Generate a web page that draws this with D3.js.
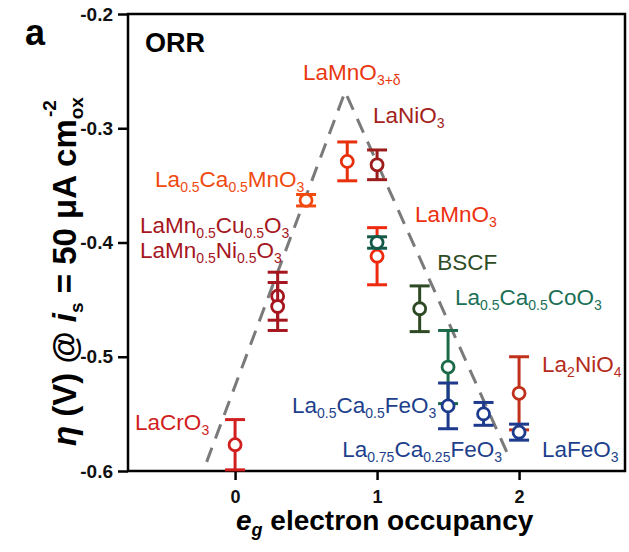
<!DOCTYPE html>
<html>
<head>
<meta charset="utf-8">
<script src="https://cdn.jsdelivr.net/npm/d3@7"></script>
<style>
  body { margin: 0; background: #fff; }
  svg { display: block; font-family: "Liberation Sans", Arial, sans-serif; }
</style>
</head>
<body>
<svg id="chart" width="629" height="552"></svg>
<script>
// Data (eg occupancy vs ORR overpotential)
const names = ['LaCrO3', 'LaMn0.5Cu0.5O3', 'LaMn0.5Ni0.5O3', 'La0.5Ca0.5MnO3', 'LaMnO3+d', 'LaNiO3',
    'LaMnO3', 'LaCoO3', 'BSCF', 'La0.5Ca0.5CoO3', 'La0.5Ca0.5FeO3', 'La0.75Ca0.25FeO3', 'La2NiO4', 'LaFeO3'];
const eg  = [0, 0.3, 0.3, 0.5, 0.79, 1.0, 1.0, 1.0, 1.3, 1.5, 1.5, 1.75, 2.0, 2.0];
const eta = [-0.577, -0.447, -0.456, -0.363, -0.329, -0.332, -0.412, -0.400, -0.458, -0.509, -0.543, -0.550, -0.532, -0.566];
const err = [0.022, 0.021, 0.021, 0.005, 0.017, 0.013, 0.025, 0.005, 0.020, 0.032, 0.020, 0.010, 0.032, 0.007];
const colors = ['#d11e1e', '#a5161e', '#a5161e', '#f04a10', '#e8300c', '#9c1c1c',
    '#ee2a0e', '#155a48', '#2e4a24', '#1b6a48', '#1d3a8c', '#1d3a8c', '#c0301a', '#1d3a8c'];

// volcano guide line
const trendX = [-0.2, 0.775, 1.93];
const trendY = [-0.592, -0.268, -0.588];

const yTicks = [-0.2, -0.3, -0.4, -0.5, -0.6];
const xTicks = [0, 1, 2];

// labels: text with _{sub}, anchor in data units
const labels = [
    { t: 'LaMnO_{3+δ}', x: 0.479, y: -0.258, c: '#e8380f' },
    { t: 'LaNiO_{3}', x: 0.972, y: -0.295, c: '#a3221b' },
    { t: 'LaMnO_{3}', x: 1.268, y: -0.382, c: '#ec3010' },
    { t: 'BSCF', x: 1.423, y: -0.424, c: '#2e4d25' },
    { t: 'La_{0.5}Ca_{0.5}CoO_{3}', x: 1.549, y: -0.455, c: '#1c7056' },
    { t: 'La_{2}NiO_{4}', x: 2.162, y: -0.513, c: '#b42c1c' },
    { t: 'La_{0.5}Ca_{0.5}FeO_{3}', x: 0.401, y: -0.549, c: '#1d3f8c' },
    { t: 'La_{0.75}Ca_{0.25}FeO_{3}', x: 0.754, y: -0.588, c: '#1d3f8c' },
    { t: 'LaFeO_{3}', x: 2.162, y: -0.588, c: '#1d3f8c' },
    { t: 'LaCrO_{3}', x: -0.704, y: -0.564, c: '#d11e1e' },
    { t: 'La_{0.5}Ca_{0.5}MnO_{3}', x: -0.563, y: -0.351, c: '#f04a10' },
    { t: 'LaMn_{0.5}Cu_{0.5}O_{3}', x: -0.669, y: -0.392, c: '#a5161e' },
    { t: 'LaMn_{0.5}Ni_{0.5}O_{3}', x: -0.669, y: -0.414, c: '#a5161e' }
];

const margin = { top: 14, right: 4, bottom: 81, left: 128 };
const W = 629, H = 552;
const font = '"Liberation Sans", Arial, sans-serif';

const svg = d3.select('#chart');

const x = d3.scaleLinear().domain([-0.754, 2.746]).range([margin.left, W - margin.right]);
const y = d3.scaleLinear().domain([-0.6, -0.2]).range([H - margin.bottom, margin.top]);

// axes
svg.append('g')
    .attr('transform', `translate(${margin.left},0)`)
    .call(d3.axisLeft(y).tickValues(yTicks).tickFormat(d => d.toFixed(1)).tickSize(10).tickPadding(5))
    .call(g => g.select('.domain').remove())
    .call(g => g.selectAll('line').attr('stroke-width', 2.5))
    .call(g => g.selectAll('text').attr('font-size', 19).attr('font-weight', 'bold')
        .attr('font-family', font).attr('fill', '#111'));

svg.append('g')
    .attr('transform', `translate(0,${H - margin.bottom})`)
    .call(d3.axisBottom(x).tickValues(xTicks).tickFormat(d => d).tickSize(9).tickPadding(10))
    .call(g => g.select('.domain').remove())
    .call(g => g.selectAll('line').attr('stroke-width', 2.5))
    .call(g => g.selectAll('text').attr('font-size', 18).attr('font-weight', 'bold')
        .attr('font-family', font).attr('fill', '#111'));

// frame
svg.append('rect')
    .attr('x', x.range()[0]).attr('y', y.range()[1])
    .attr('width', x.range()[1] - x.range()[0])
    .attr('height', y.range()[0] - y.range()[1])
    .attr('fill', 'none').attr('stroke', '#000').attr('stroke-width', 2.5);

// dashed volcano
svg.append('path')
    .datum(trendX.map((v, i) => [v, trendY[i]]))
    .attr('d', d3.line().x(d => x(d[0])).y(d => y(d[1])))
    .attr('fill', 'none').attr('stroke', '#7a7a7a').attr('stroke-width', 3)
    .attr('stroke-dasharray', '15,10');

// points with error bars
const pts = names.map((n, i) => ({ n, x: eg[i], y: eta[i], e: err[i], c: colors[i] }));
const capW = 10;
const grp = svg.append('g').selectAll('g').data(pts).join('g')
    .attr('stroke', d => d.c).attr('stroke-width', 3);

grp.append('line')
    .attr('x1', d => x(d.x)).attr('x2', d => x(d.x))
    .attr('y1', d => y(d.y - d.e)).attr('y2', d => y(d.y + d.e));
grp.append('line')
    .attr('x1', d => x(d.x) - capW).attr('x2', d => x(d.x) + capW)
    .attr('y1', d => y(d.y + d.e)).attr('y2', d => y(d.y + d.e));
grp.append('line')
    .attr('x1', d => x(d.x) - capW).attr('x2', d => x(d.x) + capW)
    .attr('y1', d => y(d.y - d.e)).attr('y2', d => y(d.y - d.e));
grp.append('circle')
    .attr('cx', d => x(d.x)).attr('cy', d => y(d.y)).attr('r', 6)
    .attr('fill', '#fff').attr('stroke-width', 2.8);

// label helper for subscripts
function addRich(sel, str, sub) {
    const parts = str.split(/(_\{[^}]*\})/).filter(s => s);
    let down = false;
    parts.forEach(p => {
        if (p.startsWith('_{')) {
            sel.append('tspan').attr('font-size', sub).attr('dy', 5).text(p.slice(2, -1));
            down = true;
        } else {
            sel.append('tspan').attr('dy', down ? -5 : 0).text(p);
            down = false;
        }
    });
}

labels.forEach(l => {
    const t = svg.append('text')
        .attr('x', x(l.x)).attr('y', y(l.y))
        .attr('fill', l.c).attr('font-size', 22.5);
    addRich(t, l.t, 14);
});

// titles
svg.append('text').attr('x', 25).attr('y', 45)
    .attr('font-size', 36).attr('font-weight', 'bold').text('a');
svg.append('text').attr('x', 145).attr('y', 52)
    .attr('font-size', 27).attr('font-weight', 'bold').text('ORR');

const xt = svg.append('text').attr('x', 236).attr('y', 530)
    .attr('font-size', 28).attr('font-weight', 'bold');
xt.append('tspan').attr('font-style', 'italic').text('e');
xt.append('tspan').attr('font-style', 'italic').attr('font-size', 18).attr('dy', 6).text('g');
xt.append('tspan').attr('dy', -6).text(' electron occupancy');

const yt = svg.append('text')
    .attr('transform', 'translate(76,446) rotate(-90)')
    .attr('font-size', 33).attr('font-weight', 'bold');
yt.append('tspan').attr('font-style', 'italic').text('η');
yt.append('tspan').text(' (V) @ ');
yt.append('tspan').attr('font-style', 'italic').text('i');
yt.append('tspan').attr('font-size', 19).attr('dy', 7).text('s');
yt.append('tspan').attr('dy', -7).text(' = 50 μA cm');
yt.append('tspan').attr('font-size', 19).attr('dy', 7).text('ox');
yt.append('tspan').attr('font-size', 19).attr('dx', -20).attr('dy', -27).text('-2');
</script>
</body>
</html>
